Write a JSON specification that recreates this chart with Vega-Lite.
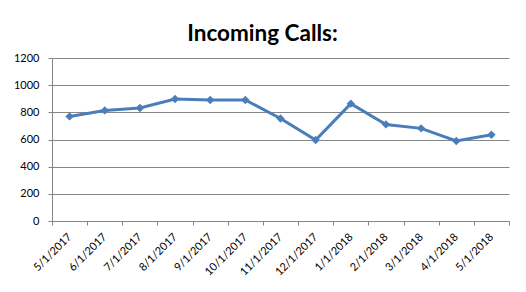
{
  "$schema": "https://vega.github.io/schema/vega-lite/v6.json",
  "width": 457,
  "height": 163,
  "autosize": "none",
  "padding": {"left": 52, "top": 58, "right": 17, "bottom": 71},
  "background": "white",
  "title": {
    "text": "Incoming Calls:",
    "font": "Lato",
    "fontSize": 22.5,
    "fontWeight": "bold",
    "color": "#000000",
    "anchor": "middle",
    "dx": -18,
    "dy": 33,
    "baseline": "alphabetic",
    "offset": 22
  },
  "data": {
    "values": [
      {"month": "5/1/2017", "calls": 770},
      {"month": "6/1/2017", "calls": 814},
      {"month": "7/1/2017", "calls": 832},
      {"month": "8/1/2017", "calls": 898},
      {"month": "9/1/2017", "calls": 891},
      {"month": "10/1/2017", "calls": 891},
      {"month": "11/1/2017", "calls": 755},
      {"month": "12/1/2017", "calls": 596},
      {"month": "1/1/2018", "calls": 864},
      {"month": "2/1/2018", "calls": 711},
      {"month": "3/1/2018", "calls": 682},
      {"month": "4/1/2018", "calls": 589},
      {"month": "5/1/2018", "calls": 635}
    ]
  },
  "config": {
    "view": {"stroke": null},
    "axis": {
      "labelFont": "Lato",
      "labelFontSize": 11,
      "labelColor": "#000000",
      "domainColor": "#868686",
      "tickColor": "#868686",
      "gridColor": "#868686",
      "domainWidth": 1,
      "tickWidth": 1,
      "gridWidth": 1
    }
  },
  "encoding": {
    "x": {
      "field": "month",
      "type": "ordinal",
      "sort": null,
      "bandPosition": 0.5,
      "scale": {"type": "band", "paddingInner": 0, "paddingOuter": 0},
      "axis": {
        "title": null,
        "labelAngle": -45,
        "labelAlign": "right",
        "labelBaseline": "middle",
        "tickBand": "extent",
        "tickSize": 4,
        "labelPadding": 10,
        "grid": false
      }
    },
    "y": {
      "field": "calls",
      "type": "quantitative",
      "scale": {"domain": [0, 1200], "nice": false, "zero": true},
      "axis": {
        "title": null,
        "format": "d",
        "values": [0, 200, 400, 600, 800, 1000, 1200],
        "tickSize": 4,
        "labelPadding": 9,
        "grid": true
      }
    }
  },
  "layer": [
    {"mark": {"type": "line", "color": "#4A7EBB", "strokeWidth": 3}},
    {"mark": {"type": "point", "shape": "diamond", "filled": true, "color": "#4A7EBB", "size": 70, "opacity": 1}}
  ]
}
